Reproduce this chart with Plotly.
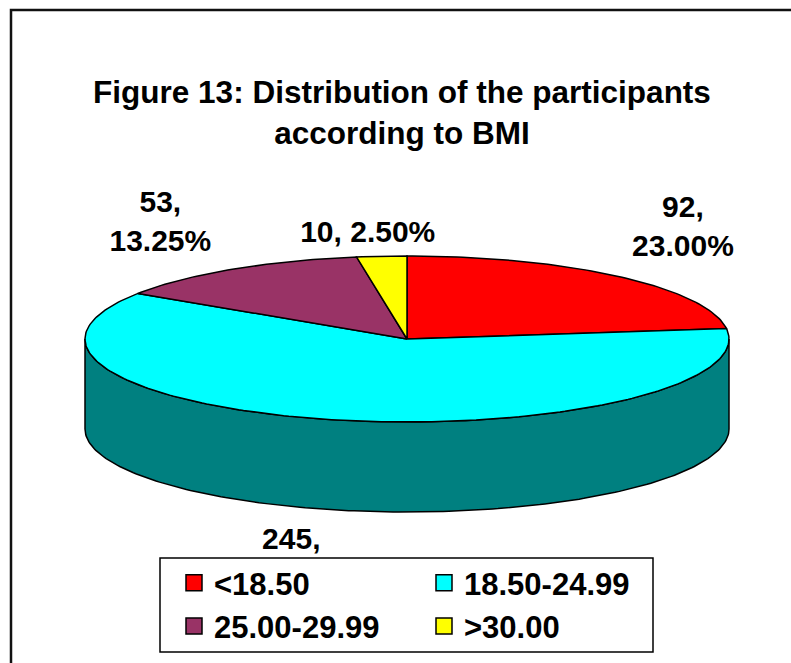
import numpy as np
import plotly.graph_objects as go

# BMI groups and participant counts
categories = ["<18.50", "18.50-24.99", "25.00-29.99", ">30.00"]
counts = [92, 245, 53, 10]

top_colors = ["#FF0000", "#00FFFF", "#993366", "#FFFF00"]
side_colors = ["#800000", "#008080", "#4D1A33", "#808000"]
label_wrap = [True, True, True, False]
# label nudges (pixels) from the rim point at each slice's mid-angle
label_shift = [(63, -48), (-43, 51), (-72, -45), (-14, -22)]

W, H = 791, 663
ML, MR = 60, 40
PW = W - ML - MR

# tilted pie geometry, in page pixels
CX, CY = 407, 339
RX, RY = 322, 83
DEPTH = 90

# legend frame, in page pixels
LEG_L, LEG_R, LEG_T, LEG_B = 160, 653, 558, 652

FONT = "Liberation Sans, Arial, sans-serif"


def rim(theta_deg, drop=0.0):
    t = np.radians(theta_deg)
    return CX + RX * np.sin(t), CY - RY * np.cos(t) + drop


def arc(a0, a1, drop=0.0):
    n = max(int(abs(a1 - a0) / 1.0) + 2, 3)
    th = np.linspace(a0, a1, n)
    xs, ys = rim(th, drop)
    return list(xs), list(ys)


def px_to_paper_x(px):
    return (px - ML) / PW


def px_to_paper_y(py):
    return 1 - py / H


total = sum(counts)
shares = [c / total for c in counts]
starts = np.concatenate([[0.0], np.cumsum(shares)[:-1]]) * 360.0
ends = np.cumsum(shares) * 360.0

fig = go.Figure()

# visible outer wall (front half: 90..270 degrees)
for i in range(len(counts)):
    a0, a1 = max(starts[i], 90.0), min(ends[i], 270.0)
    if a1 <= a0:
        continue
    tx, ty = arc(a0, a1)
    bx, by = arc(a1, a0, DEPTH)
    fig.add_trace(go.Scatter(
        x=tx + bx + [tx[0]], y=ty + by + [ty[0]],
        mode="lines", fill="toself", fillcolor=side_colors[i],
        line=dict(color="black", width=1.5), hoverinfo="skip", showlegend=False))

# top faces of the slices
for i in range(len(counts)):
    ax_, ay_ = arc(starts[i], ends[i])
    fig.add_trace(go.Scatter(
        x=[CX] + ax_ + [CX], y=[CY] + ay_ + [CY],
        mode="lines", fill="toself", fillcolor=top_colors[i],
        line=dict(color="black", width=1.5), hoverinfo="skip", showlegend=False))

# data labels: "count, percent"
lx, ly, lt = [], [], []
for i in range(len(counts)):
    mid = (starts[i] + ends[i]) / 2.0
    drop = DEPTH if np.cos(np.radians(mid)) < 0 else 0.0
    px, py = rim(mid, drop)
    lx.append(px + label_shift[i][0])
    ly.append(py + label_shift[i][1])
    sep = ",<br>" if label_wrap[i] else ", "
    lt.append(f"{counts[i]}{sep}{shares[i] * 100:.2f}%")

fig.add_trace(go.Scatter(
    x=lx, y=ly, text=lt, mode="text", textposition="middle center",
    textfont=dict(family=FONT, size=30, color="black", weight="bold"),
    cliponaxis=False, hoverinfo="skip", showlegend=False))

# legend entries
for i, name in enumerate(categories):
    fig.add_trace(go.Scatter(
        x=[None], y=[None], mode="markers", name=name,
        marker=dict(symbol="square", size=17, color=top_colors[i],
                    line=dict(color="black", width=1.5))))

# chart frame
fig.add_shape(type="rect", xref="paper", yref="paper",
              x0=px_to_paper_x(11), x1=px_to_paper_x(820),
              y0=px_to_paper_y(10), y1=px_to_paper_y(690),
              line=dict(color="#111111", width=2.5), fillcolor="rgba(0,0,0,0)")

# legend frame (white box drawn over the plot, under the legend entries)
fig.add_shape(type="rect", xref="paper", yref="paper", layer="above",
              x0=px_to_paper_x(LEG_L), x1=px_to_paper_x(LEG_R),
              y0=px_to_paper_y(LEG_T), y1=px_to_paper_y(LEG_B),
              line=dict(color="black", width=1.5), fillcolor="white")

fig.update_layout(
    width=W, height=H,
    margin=dict(l=ML, r=MR, t=0, b=0),
    paper_bgcolor="white", plot_bgcolor="white",
    xaxis=dict(range=[ML, W - MR], visible=False, fixedrange=True),
    yaxis=dict(range=[H, 0], visible=False, fixedrange=True),
    title=dict(
        text="Figure 13: Distribution of the participants<br>according to BMI",
        font=dict(family=FONT, size=31.5, color="black", weight="bold"),
        x=402 / W, xanchor="center", xref="container",
        y=1 - 103 / H, yanchor="top", yref="container"),
    legend=dict(
        orientation="h", x=px_to_paper_x(LEG_L + 14), y=px_to_paper_y(LEG_T - 2),
        xanchor="left", yanchor="top",
        bgcolor="rgba(0,0,0,0)", borderwidth=0,
        font=dict(family=FONT, size=31, color="black", weight="bold"),
        entrywidth=205, entrywidthmode="pixels", tracegroupgap=0),
    showlegend=True,
)

fig.write_html("out.html")
